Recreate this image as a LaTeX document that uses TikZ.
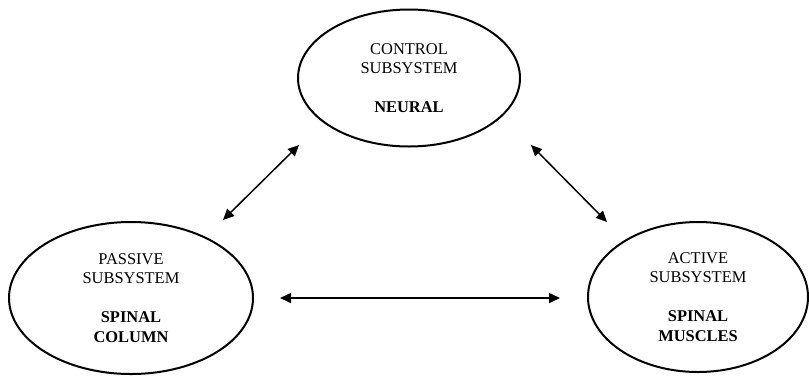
\documentclass[tikz,border=0pt]{standalone}
\usepackage{fontspec}
\setmainfont{Liberation Serif}
\usetikzlibrary{shapes.geometric,arrows.meta}

\begin{document}
\begin{tikzpicture}[x=1bp, y=-1bp,
            sub/.style={draw, ellipse, line width=2bp, inner sep=0, align=center,
                        font=\fontsize{16.5}{19.5}\selectfont},
            link/.style={{Triangle[length=11bp,width=10bp]}-{Triangle[length=11bp,width=10bp]},
                         line width=1.5bp}]
        \useasboundingbox (0,0) rectangle (809,377);

        \node (control) [sub, minimum width=222bp, minimum height=137bp] at (409,78)
            {CONTROL\\SUBSYSTEM\\[19.5bp]\textbf{NEURAL}};
        \node (passive) [sub, minimum width=244bp, minimum height=152bp] at (131,298)
            {PASSIVE\\SUBSYSTEM\\[19.5bp]\textbf{SPINAL}\\\textbf{COLUMN}};
        \node (active)  [sub, minimum width=220bp, minimum height=150bp] at (698,297)
            {ACTIVE\\SUBSYSTEM\\[19.5bp]\textbf{SPINAL}\\\textbf{MUSCLES}};

        \coordinate (pc1) at (223,220);
        \coordinate (pc2) at (299,145);
        \coordinate (ca1) at (531,145);
        \coordinate (ca2) at (607,222);
        \coordinate (pa1) at (280,298);
        \coordinate (pa2) at (560,298);
        \draw [link] (pc1) -- (pc2);
        \draw [link] (ca1) -- (ca2);
        \draw [link] (pa1) -- (pa2);
    \end{tikzpicture}
\end{document}
